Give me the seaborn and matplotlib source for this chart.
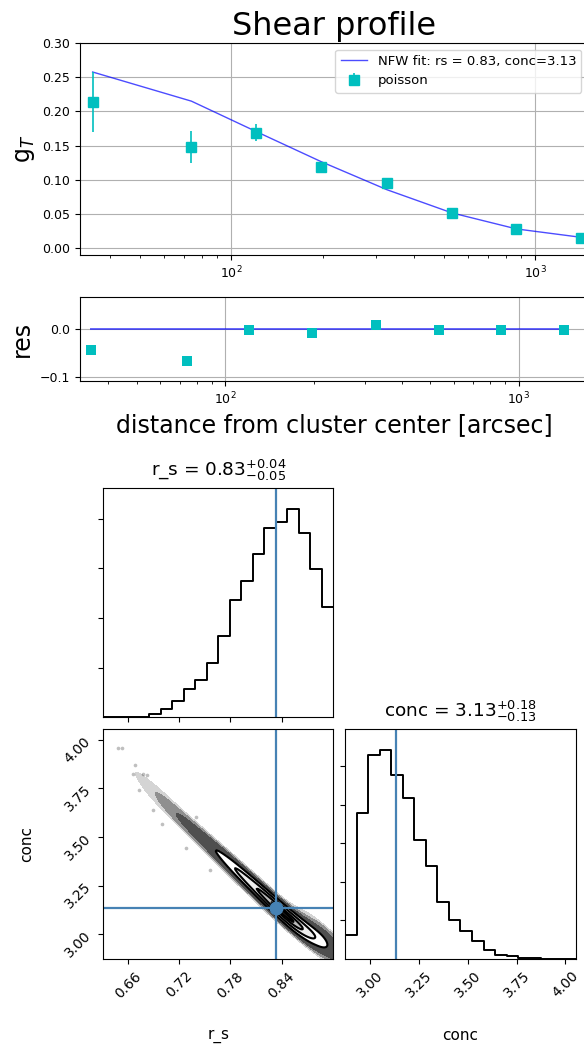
import numpy as np
import pandas as pd
import matplotlib
matplotlib.use("Agg")
import matplotlib.pyplot as plt
import seaborn as sns

# ---------------------------------------------------------------- shear profile
radius_arcsec = [35.0, 74.0, 121.0, 198.0, 326.0, 533.0, 869.0, 1420.0]
g_t = [0.214, 0.148, 0.169, 0.119, 0.095, 0.051, 0.028, 0.015]
g_t_err = [0.044, 0.024, 0.012, 0.005, 0.003, 0.003, 0.002, 0.002]
g_nfw = [0.2576, 0.2150, 0.1705, 0.1265, 0.0855, 0.0517, 0.0283, 0.0160]

# best fit and 16/84 percentile offsets of the NFW parameters
rs_best, rs_plus, rs_minus = 0.833, 0.04, 0.05
conc_best, conc_plus, conc_minus = 3.133, 0.18, 0.13

# ---------------------------------------------------------------- MCMC posterior
rs_range = (0.6307, 0.9008)
rs_counts = [0, 0, 1, 1, 6, 17, 33, 56, 75, 110,
             164, 237, 274, 329, 381, 393, 419, 371, 298, 221]
conc_range = (2.870, 4.055)
conc_counts = [63, 377, 528, 541, 476, 418, 308, 241, 148, 100,
               71, 46, 23, 9, 6, 3, 2, 0, 0, 0]

# joint posterior: conc ridge centre and band width for each r_s bin
conc_ridge_mid = [3.970, 3.920, 3.860, 3.790, 3.730, 3.670, 3.610, 3.555, 3.500, 3.445,
                  3.390, 3.335, 3.280, 3.225, 3.170, 3.115, 3.065, 3.020, 2.985, 2.955]
conc_ridge_sigma = [0.022, 0.022, 0.022, 0.023, 0.023, 0.024, 0.024, 0.025, 0.026, 0.027,
                    0.029, 0.030, 0.032, 0.033, 0.035, 0.036, 0.037, 0.038, 0.039, 0.040]

# isolated samples far out in the tail
tail_rs = [0.6483, 0.6522, 0.6679, 0.6659, 0.6769, 0.6816, 0.6730, 0.6890, 0.7000,
           0.7277, 0.7559, 0.7400]
tail_conc = [3.959, 3.959, 3.872, 3.826, 3.826, 3.817, 3.744, 3.641, 3.569,
             3.446, 3.330, 3.603]

rs_ticks = [0.66, 0.72, 0.78, 0.84]
conc_ticks = [3.00, 3.25, 3.50, 3.75, 4.00]
rs_count_ticks = [100, 200, 300, 400]
conc_count_ticks = [100, 200, 300, 400, 500]
shear_yticks = [0.00, 0.05, 0.10, 0.15, 0.20, 0.25, 0.30]
res_yticks = [-0.1, 0.0]

TRUTH = "#4682b4"

W, H = 584, 1050
fig = plt.figure(figsize=(W / 100, H / 100), dpi=100)


def px_axes(left, top, right, bottom):
    return fig.add_axes([left / W, 1 - bottom / H, (right - left) / W, (bottom - top) / H])


ax_top = px_axes(80, 43, 588, 255)
ax_res = px_axes(80, 296.5, 588, 381)
ax_rs = px_axes(103.3, 488.3, 333.3, 717.3)
ax_2d = px_axes(103.3, 729.3, 333.3, 959.3)
ax_conc = px_axes(345, 729.3, 576, 958.8)

# ---------------------------------------------------------------- shear profile
ax_top.set_xscale("log")
fit_label = f"NFW fit: rs = {rs_best:.2f}, conc={conc_best:.2f}"
sns.lineplot(x=radius_arcsec, y=g_nfw, ax=ax_top, color="b", alpha=0.7,
             linewidth=1.0, label=fit_label)
ax_top.errorbar(radius_arcsec, g_t, yerr=g_t_err, fmt="s", color="c", ms=7,
                elinewidth=1.2, label="poisson")
ax_top.set_xlim(31.8, 1494)
ax_top.set_ylim(-0.0098, 0.30)
ax_top.set_yticks(shear_yticks)
ax_top.grid(True, color="#b0b0b0", linewidth=0.8)
ax_top.tick_params(labelsize=9)
ax_top.set_ylabel("g$_T$", fontsize=17)
ax_top.set_title("Shear profile", fontsize=23)
ax_top.legend(loc="upper right", fontsize=9.5)

# ---------------------------------------------------------------- residuals
residual = np.array(g_t) - np.array(g_nfw)
model_res = np.array(g_nfw) - np.array(g_nfw)
ax_res.set_xscale("log")
sns.lineplot(x=radius_arcsec, y=model_res, ax=ax_res, color="b", alpha=0.6,
             linewidth=1.4)
sns.scatterplot(x=radius_arcsec, y=residual, ax=ax_res, marker="s", color="c",
                s=45, linewidth=0, zorder=3)
ax_res.set_xlim(32.1, 1718)
ax_res.set_ylim(-0.108, 0.069)
ax_res.set_yticks(res_yticks)
ax_res.grid(True, color="#b0b0b0", linewidth=0.8)
ax_res.tick_params(labelsize=9)
ax_res.set_ylabel("res", fontsize=17)
ax_res.set_xlabel("distance from cluster center [arcsec]", fontsize=17)

# ---------------------------------------------------------------- corner plot
n_rs = len(rs_counts)
n_conc = len(conc_counts)
rs_edges = np.linspace(rs_range[0], rs_range[1], n_rs + 1)
rs_centers = 0.5 * (rs_edges[:-1] + rs_edges[1:])
conc_edges = np.linspace(conc_range[0], conc_range[1], n_conc + 1)
conc_centers = 0.5 * (conc_edges[:-1] + conc_edges[1:])

rs_hist = pd.DataFrame({"r_s": rs_centers, "n": np.asarray(rs_counts, float)})
conc_hist = pd.DataFrame({"conc": conc_centers, "n": np.asarray(conc_counts, float)})


def title_for(name, best, plus, minus):
    return f"{name} = ${best:.2f}^{{+{plus:.2f}}}_{{-{minus:.2f}}}$"


# r_s marginal
sns.histplot(data=rs_hist, x="r_s", weights="n", bins=n_rs, binrange=rs_range,
             element="step", fill=False, color="k", linewidth=1.4, ax=ax_rs)
ax_rs.axvline(rs_best, color=TRUTH, linewidth=1.6)
ax_rs.set_xlim(*rs_range)
ax_rs.set_ylim(0, 1.1 * max(rs_counts))
ax_rs.set_xticks(rs_ticks)
ax_rs.set_yticks(rs_count_ticks)
ax_rs.tick_params(labelbottom=False, labelleft=False)
ax_rs.set_xlabel("")
ax_rs.set_ylabel("")
ax_rs.set_title(title_for("r_s", rs_best, rs_plus, rs_minus), fontsize=13.3, pad=9)

# conc marginal
sns.histplot(data=conc_hist, x="conc", weights="n", bins=n_conc, binrange=conc_range,
             element="step", fill=False, color="k", linewidth=1.4, ax=ax_conc)
ax_conc.axvline(conc_best, color=TRUTH, linewidth=1.6)
ax_conc.set_xlim(*conc_range)
ax_conc.set_ylim(0, 1.1 * max(conc_counts))
ax_conc.set_xticks(conc_ticks)
ax_conc.set_xticklabels([f"{t:.2f}" for t in conc_ticks], rotation=45)
ax_conc.set_yticks(conc_count_ticks)
ax_conc.tick_params(labelleft=False, labelsize=10)
ax_conc.set_ylabel("")
ax_conc.set_xlabel("conc", fontsize=11)
ax_conc.xaxis.set_label_coords(0.5, -0.3)
ax_conc.set_title(title_for("conc", conc_best, conc_plus, conc_minus), fontsize=13.3, pad=9)

# joint r_s / conc density: each r_s bin spreads its weight across a truncated
# band in conc around the ridge
band_steps = np.linspace(-1.5, 1.5, 13)
band_profile = np.exp(-0.5 * band_steps ** 2)
mid = np.asarray(conc_ridge_mid)
sig = np.asarray(conc_ridge_sigma)
cnt = np.asarray(rs_counts, float)
joint = pd.DataFrame({
    "r_s": np.concatenate([rs_centers for _ in band_steps]),
    "conc": np.concatenate([mid + t * sig for t in band_steps]),
    "n": np.concatenate([cnt * p for p in band_profile]),
})
contour_levels = [0.30, 0.58, 0.84, 0.96]
kde_kw = dict(data=joint, x="r_s", y="conc", weights="n", bw_adjust=0.6,
              gridsize=250, color="k", ax=ax_2d)

sns.kdeplot(fill=True, levels=[0.0015, 0.012, 0.06, contour_levels[0]],
            colors=["#d4d4d4", "#8f8f8f", "#4f4f4f"], **kde_kw)
sns.kdeplot(fill=True, levels=contour_levels + [1.0],
            colors=["#ffffff", "#eeeeee", "#bdbdbd", "#2e2e2e"], **kde_kw)
sns.kdeplot(fill=False, levels=contour_levels, colors="k", linewidths=1.5, **kde_kw)
sns.scatterplot(x=tail_rs, y=tail_conc, color="k", alpha=0.25, s=7, linewidth=0, ax=ax_2d)

ax_2d.axvline(rs_best, color=TRUTH, linewidth=1.6)
ax_2d.axhline(conc_best, color=TRUTH, linewidth=1.6)
ax_2d.plot([rs_best], [conc_best], "o", color=TRUTH, ms=9)
ax_2d.set_xlim(*rs_range)
ax_2d.set_ylim(*conc_range)
ax_2d.set_xticks(rs_ticks)
ax_2d.set_xticklabels([f"{t:.2f}" for t in rs_ticks], rotation=45)
ax_2d.set_yticks(conc_ticks)
ax_2d.set_yticklabels([f"{t:.2f}" for t in conc_ticks], rotation=45)
ax_2d.tick_params(labelsize=10)
ax_2d.set_xlabel("r_s", fontsize=11)
ax_2d.set_ylabel("conc", fontsize=11)
ax_2d.xaxis.set_label_coords(0.5, -0.3)
ax_2d.yaxis.set_label_coords(-0.3, 0.5)

fig.savefig("out.png", dpi=100)
